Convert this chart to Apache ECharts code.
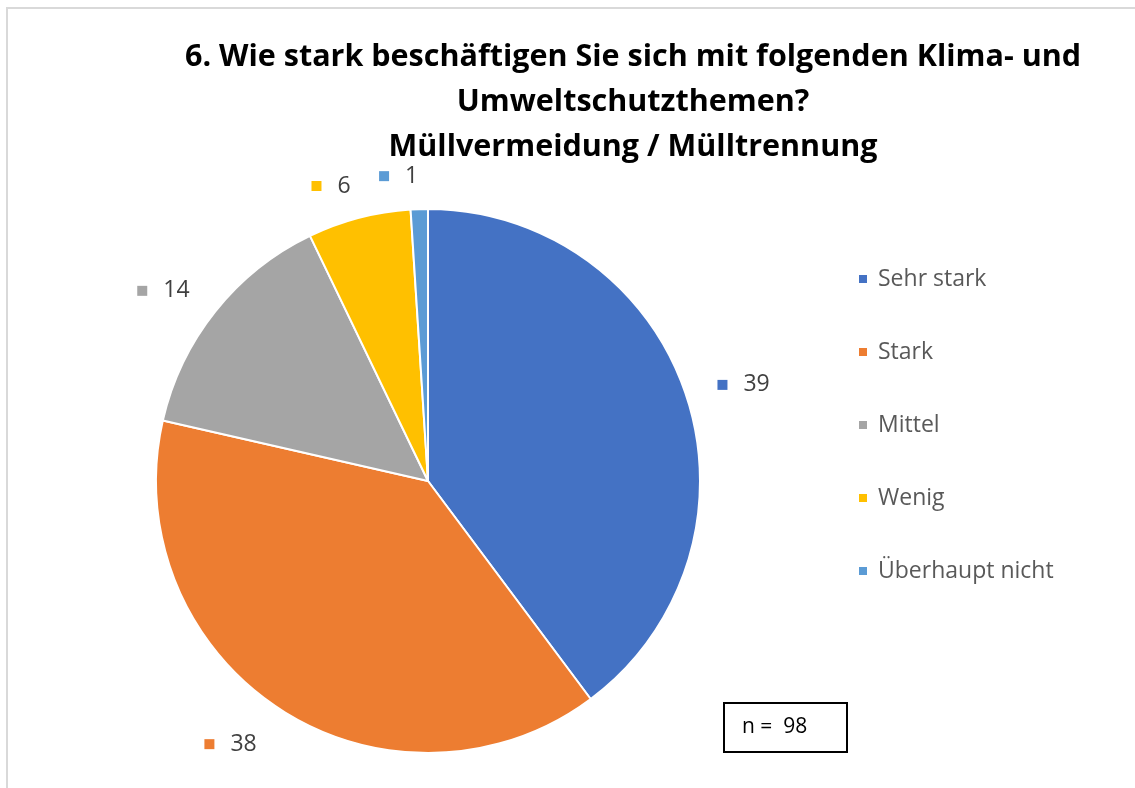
<!DOCTYPE html>
<html>
<head>
<meta charset="utf-8">
<script src="https://cdn.jsdelivr.net/npm/echarts@6/dist/echarts.min.js"></script>
<style>html,body{margin:0;padding:0;background:#fff}#c{width:1135px;height:788px}</style>
</head>
<body>
<div id="c"></div>
<script>
const categories = ['Sehr stark', 'Stark', 'Mittel', 'Wenig', 'Überhaupt nicht'];
const values = [39, 38, 14, 6, 1];
const colors = ['#4472C4', '#ED7D31', '#A5A5A5', '#FFC000', '#5B9BD5'];
const titleText = '6. Wie stark beschäftigen Sie sich mit folgenden Klima- und\nUmweltschutzthemen?\nMüllvermeidung / Mülltrennung';
const nText = 'n =  98';

const FONT = "'Open Sans', 'Noto Sans', sans-serif";
const rich = { v: { fontSize: 23, color: '#404040', fontFamily: FONT, padding: [0, 0, 0, 16] } };
colors.forEach((c, i) => { rich['m' + i] = { width: 10, height: 10, backgroundColor: c }; });

const chart = echarts.init(document.getElementById('c'), null, { renderer: 'canvas' });
chart.setOption({
  backgroundColor: '#fff',
  color: colors,
  animation: false,
  title: {
    text: titleText,
    left: 628, top: 30,
    textAlign: 'center',
    textStyle: { fontFamily: FONT, fontWeight: 'bold', fontSize: 30.5, lineHeight: 45, color: '#000' }
  },
  legend: {
    orient: 'vertical',
    left: 852, top: 262,
    icon: 'rect',
    itemWidth: 10, itemHeight: 10,
    itemGap: 49,
    data: categories,
    textStyle: { fontFamily: FONT, fontSize: 23, color: '#595959', padding: [0, 0, 0, 5], lineHeight: 24 }
  },
  series: [{
    type: 'pie',
    center: [428, 481],
    radius: 272,
    startAngle: 90,
    clockwise: true,
    avoidLabelOverlap: false,
    itemStyle: { borderColor: '#fff', borderWidth: 2 },
    label: {
      show: true,
      position: 'outside',
      distanceToLabelLine: 0,
      formatter: p => '{m' + p.dataIndex + '|}{v|' + p.value + '}',
      rich: rich
    },
    labelLine: { show: false, length: 33, length2: 0 },
    emphasis: { disabled: true },
    data: categories.map((n, i) => Object.assign({ name: n, value: values[i] },
      i === 1 ? { labelLine: { show: false, length: 42, length2: 0 } } : {}))
  }],
  graphic: [
    { type: 'rect', shape: { x: 7, y: 8, width: 1200, height: 900 }, style: { fill: 'none', stroke: '#d9d9d9', lineWidth: 2 }, silent: true },
    { type: 'rect', shape: { x: 724, y: 703, width: 123, height: 49 }, style: { fill: '#fff', stroke: '#000', lineWidth: 2 } },
    { type: 'text', left: 742, top: 717, style: { text: nText, fontFamily: FONT, fontSize: 21, fill: '#000' } }
  ]
});
</script>
</body>
</html>
